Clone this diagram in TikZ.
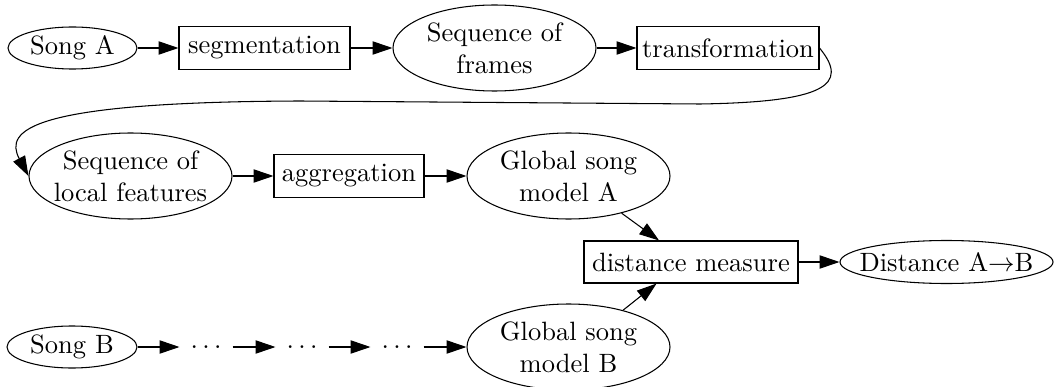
\documentclass[tikz,border=0pt]{standalone}
\usetikzlibrary{shapes.geometric,arrows.meta}
\newdimen\px
\px=0.3773pt
\tikzset{
  proc/.style={draw,rectangle,inner sep=0pt},
  data/.style={draw,ellipse,inner sep=-40pt,align=center},
  dims/.style 2 args={minimum width=#1\px,minimum height=#2\px},
  flow/.style={-{Triangle[length=7.5pt,width=5pt]}}
}
\begin{document}
\begin{tikzpicture}[x=0.3773pt,y=-0.3773pt,line width=0.4pt]
\pgfmathsetmacro{\rowa}{48}
\pgfmathsetmacro{\rowb}{176}
\pgfmathsetmacro{\rowc}{262}
\pgfmathsetmacro{\rowd}{347}
\useasboundingbox (0,0) rectangle (1054,387);
% song A, first part of the chain
\node[data,dims={129}{42}] (songA) at (72.5,\rowa) {Song A};
\node[proc,dims={171}{43}] (segm) at (264.5,\rowa) {segmentation};
\node[data,dims={203}{86}] (frames) at (494.5,\rowa) {Sequence of\\frames};
\node[proc,dims={182}{43}] (trans) at (728,\rowa) {transformation};
\node[data,dims={203}{86}] (local) at (130.5,\rowb) {Sequence of\\local features};
\node[proc,dims={150}{43}] (aggr) at (349,\rowb) {aggregation};
\node[data,dims={203}{86}] (modelA) at (568.5,\rowb) {Global song\\model A};
% comparison
\node[proc,dims={214}{42}] (dist) at (691,\rowc) {distance measure};
\node[data,dims={213}{43}] (distAB) at (946.5,\rowc) {Distance A$\rightarrow$B};
% song B, same steps
\node[data,dims={130}{42}] (songB) at (72,\rowd) {Song B};
\node[dims={52}{42},inner sep=0pt] (skipa) at (206,\rowd) {$\ldots$};
\node[dims={52}{42},inner sep=0pt] (skipb) at (302,\rowd) {$\ldots$};
\node[dims={52}{42},inner sep=0pt] (skipc) at (397,\rowd) {$\ldots$};
\node[data,dims={203}{86}] (modelB) at (568.5,\rowd) {Global song\\model B};

\draw[flow] (songA) -- (segm);
\draw[flow] (segm) -- (frames);
\draw[flow] (frames) -- (trans);
% wrap around to the second row
\coordinate (wrapR) at (700,104);
\coordinate (wrapL) at (300,101);
\draw[flow] (trans.east) .. controls (850,85) and (825,102) .. (wrapR) -- (wrapL)
  .. controls (30,102) and (4,130) .. (local.west);
\draw[flow] (local) -- (aggr);
\draw[flow] (aggr) -- (modelA);
\draw[flow] (modelA.-35) -- (dist.146);
\draw[flow] (modelB.34) -- (dist.-148);
\draw[flow] (dist) -- (distAB);
\draw[flow] (songB) -- (skipa);
\draw[flow] (skipa) -- (skipb);
\draw[flow] (skipb) -- (skipc);
\draw[flow] (skipc) -- (modelB);
\end{tikzpicture}
\end{document}
